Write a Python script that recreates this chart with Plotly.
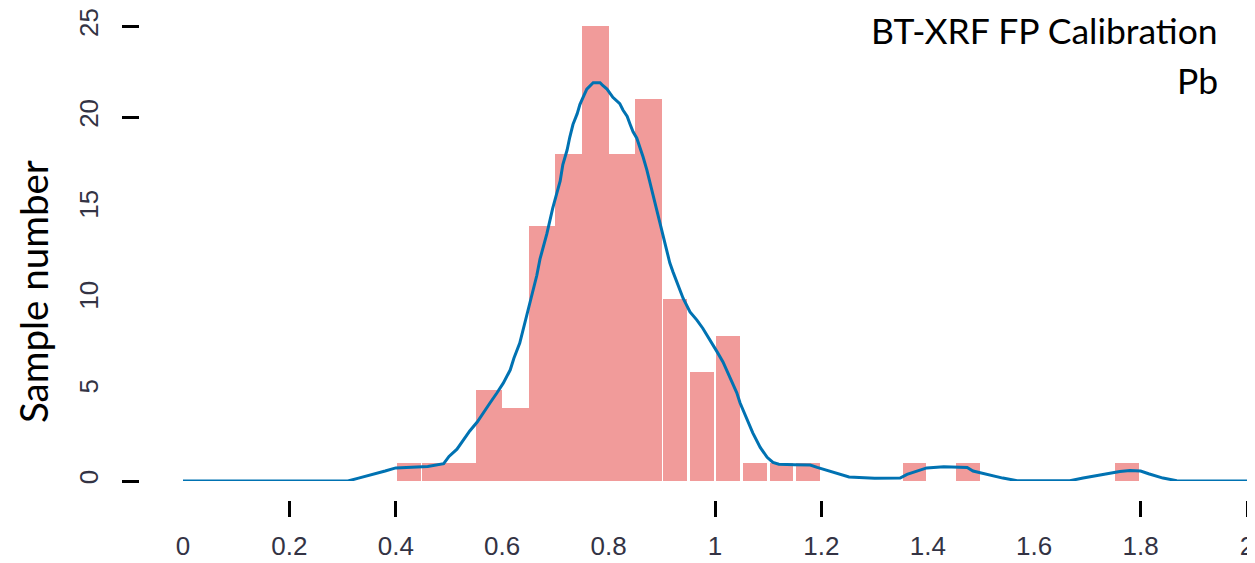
import plotly.graph_objects as go

# ---------------- data ----------------
bin_left = [0.40, 0.45, 0.50, 0.55, 0.60, 0.65, 0.70, 0.75, 0.80, 0.85, 0.90, 0.95,
            1.00, 1.05, 1.10, 1.15, 1.20, 1.25, 1.30, 1.35, 1.40, 1.45, 1.50, 1.55,
            1.60, 1.65, 1.70, 1.75]
counts = [1, 1, 1, 5, 4, 14, 18, 25, 18, 21, 10, 6,
          8, 1, 1, 1, 0, 0, 0, 1, 0, 1, 0, 0,
          0, 0, 0, 1]
bin_width = 0.05

density_x = [0.0, 0.31, 0.33, 0.36, 0.38, 0.40, 0.46, 0.49, 0.50, 0.515, 0.526, 0.539,
             0.553, 0.564, 0.577, 0.590, 0.602, 0.615, 0.622, 0.633, 0.640, 0.652, 0.665,
             0.671, 0.684, 0.695, 0.709, 0.714, 0.722, 0.727, 0.733, 0.741, 0.746, 0.752,
             0.759, 0.771, 0.784, 0.789, 0.797, 0.808, 0.821, 0.827, 0.835, 0.840, 0.846,
             0.853, 0.859, 0.865, 0.872, 0.878, 0.883, 0.891, 0.897, 0.902, 0.910, 0.915,
             0.921, 0.929, 0.934, 0.940, 0.953, 0.966, 0.977, 0.991, 1.004, 1.015, 1.028,
             1.041, 1.047, 1.060, 1.071, 1.085, 1.098, 1.109, 1.120, 1.150, 1.179, 1.192,
             1.216, 1.235, 1.252, 1.300, 1.348, 1.361, 1.380, 1.398, 1.430, 1.474, 1.485,
             1.511, 1.541, 1.568, 1.620, 1.667, 1.692, 1.729, 1.761, 1.780, 1.800, 1.815,
             1.842, 1.868, 1.930, 2.0]
density_y = [0.0, 0.0, 0.16, 0.38, 0.55, 0.72, 0.80, 0.95, 1.35, 1.75, 2.2, 2.75,
             3.24, 3.74, 4.29, 4.84, 5.38, 6.10, 6.75, 7.58, 8.4, 9.9, 11.3,
             12.2, 13.6, 15.0, 16.5, 17.4, 18.2, 18.9, 19.6, 20.2, 20.7, 21.1,
             21.55, 21.9, 21.9, 21.75, 21.55, 21.1, 20.75, 20.4, 20.05, 19.65, 19.2,
             18.85, 18.35, 17.8, 17.1, 16.4, 15.7, 14.9, 14.2, 13.6, 12.7, 12.0,
             11.5, 10.9, 10.5, 10.05, 9.3, 8.85, 8.4, 7.75, 7.1, 6.55, 5.7,
             4.85, 4.3, 3.45, 2.65, 1.85, 1.3, 1.02, 0.92, 0.90, 0.88, 0.75,
             0.55, 0.38, 0.22, 0.15, 0.16, 0.36, 0.55, 0.72, 0.78, 0.74, 0.55,
             0.36, 0.16, 0.02, 0.0, 0.02, 0.16, 0.36, 0.52, 0.58, 0.55, 0.40,
             0.16, 0.02, 0.0, 0.0]

x_label_vals = [0.0, 0.2, 0.4, 0.6, 0.8, 1.0, 1.2, 1.4, 1.6, 1.8, 2.0]
x_label_text = ["0", "0.2", "0.4", "0.6", "0.8", "1", "1.2", "1.4", "1.6", "1.8", "2"]
x_mark_vals = [0.2, 0.4, 1.0, 1.2, 1.8, 2.0]
y_label_vals = [0, 5, 10, 15, 20, 25]
y_label_text = ["0", "5", "10", "15", "20", "25"]
y_mark_vals = [0, 20, 25]

title_line1 = "BT-XRF FP Calibration"
title_line2 = "Pb"
y_title = "Sample number"

# ---------------- layout geometry (page pixels) ----------------
W, H = 1255, 563
OFF = 8                      # default page body margin
FW, FH = W - OFF, H - OFF    # figure size
plot_left, plot_right = 183, 1247
plot_top, plot_bottom = 26, 481
yaxis_px = 139
xaxis_px = 500

def fx(px):
    return (px - OFF) / FW

def fy(py):
    return (H - py) / FH

BAR_COLOR = "#F19B9A"
LINE_COLOR = "#0072B2"
TICK_FONT = dict(family="Liberation Sans", size=26, color="#333344")

# bins drawn with a thin white gap in the reference (outer bins)
solid_idx = [i for i, b in enumerate(bin_left) if 0.445 < b < 0.895]
gap_idx = [i for i in range(len(bin_left)) if i not in solid_idx]

fig = go.Figure()
fig.add_trace(go.Bar(
    x=[bin_left[i] + bin_width / 2 for i in solid_idx],
    y=[counts[i] for i in solid_idx],
    width=bin_width, marker=dict(color=BAR_COLOR, line=dict(width=0)),
    showlegend=False, hoverinfo="skip"))
fig.add_trace(go.Bar(
    x=[bin_left[i] + bin_width / 2 for i in gap_idx],
    y=[counts[i] for i in gap_idx],
    width=bin_width * 0.9, marker=dict(color=BAR_COLOR, line=dict(width=0)),
    showlegend=False, hoverinfo="skip"))
fig.add_trace(go.Scatter(
    x=density_x, y=density_y, mode="lines", xaxis="x2", yaxis="y2",
    line=dict(color=LINE_COLOR, width=3), showlegend=False, hoverinfo="skip"))

common_x = dict(range=[0, 2], showgrid=False, zeroline=False, showline=False)
common_y = dict(range=[0, 25.02], showgrid=False, zeroline=False, showline=False)

fig.update_layout(
    width=FW, height=FH,
    margin=dict(l=0, r=0, t=0, b=0, pad=0, autoexpand=False),
    paper_bgcolor="white", plot_bgcolor="white",
    barmode="overlay", bargap=0,
    xaxis=dict(**common_x, domain=[fx(plot_left), fx(plot_right)],
               anchor="free", position=fy(xaxis_px),
               tickmode="array", tickvals=x_label_vals, ticktext=x_label_text,
               ticks="outside", ticklen=16, tickwidth=3, tickcolor="rgba(0,0,0,0)",
               tickfont=TICK_FONT, ticklabelstandoff=7),
    yaxis=dict(**common_y, domain=[fy(plot_bottom), fy(plot_top)],
               anchor="free", position=fx(yaxis_px),
               tickmode="array", tickvals=y_label_vals, ticktext=y_label_text,
               ticks="outside", ticklen=17, tickwidth=3, tickcolor="rgba(0,0,0,0)",
               tickangle=-90, tickfont=TICK_FONT, ticklabelstandoff=14,
               ticklabeloverflow="allow"),
    xaxis2=dict(**common_x, overlaying="x", anchor="free", position=fy(xaxis_px),
                tickmode="array", tickvals=x_mark_vals, showticklabels=False,
                ticks="outside", ticklen=16, tickwidth=3, tickcolor="black"),
    yaxis2=dict(**common_y, overlaying="y", anchor="free", position=fx(yaxis_px),
                tickmode="array", tickvals=y_mark_vals, showticklabels=False,
                ticks="outside", ticklen=17, tickwidth=3, tickcolor="black"),
    annotations=[
        dict(text=title_line1, xref="paper", yref="paper", x=fx(1220), y=fy(54),
             xanchor="right", yanchor="bottom", showarrow=False,
             font=dict(family="Lato", size=35.5, color="black")),
        dict(text=title_line2, xref="paper", yref="paper", x=fx(1220), y=fy(104),
             xanchor="right", yanchor="bottom", showarrow=False,
             font=dict(family="Lato", size=35.5, color="black")),
        dict(text=y_title, xref="paper", yref="paper", x=fx(33), y=fy(292),
             xanchor="center", yanchor="middle", textangle=-90, showarrow=False,
             font=dict(family="Lato", size=38.5, color="black")),
    ],
)

fig.write_html("out.html")
